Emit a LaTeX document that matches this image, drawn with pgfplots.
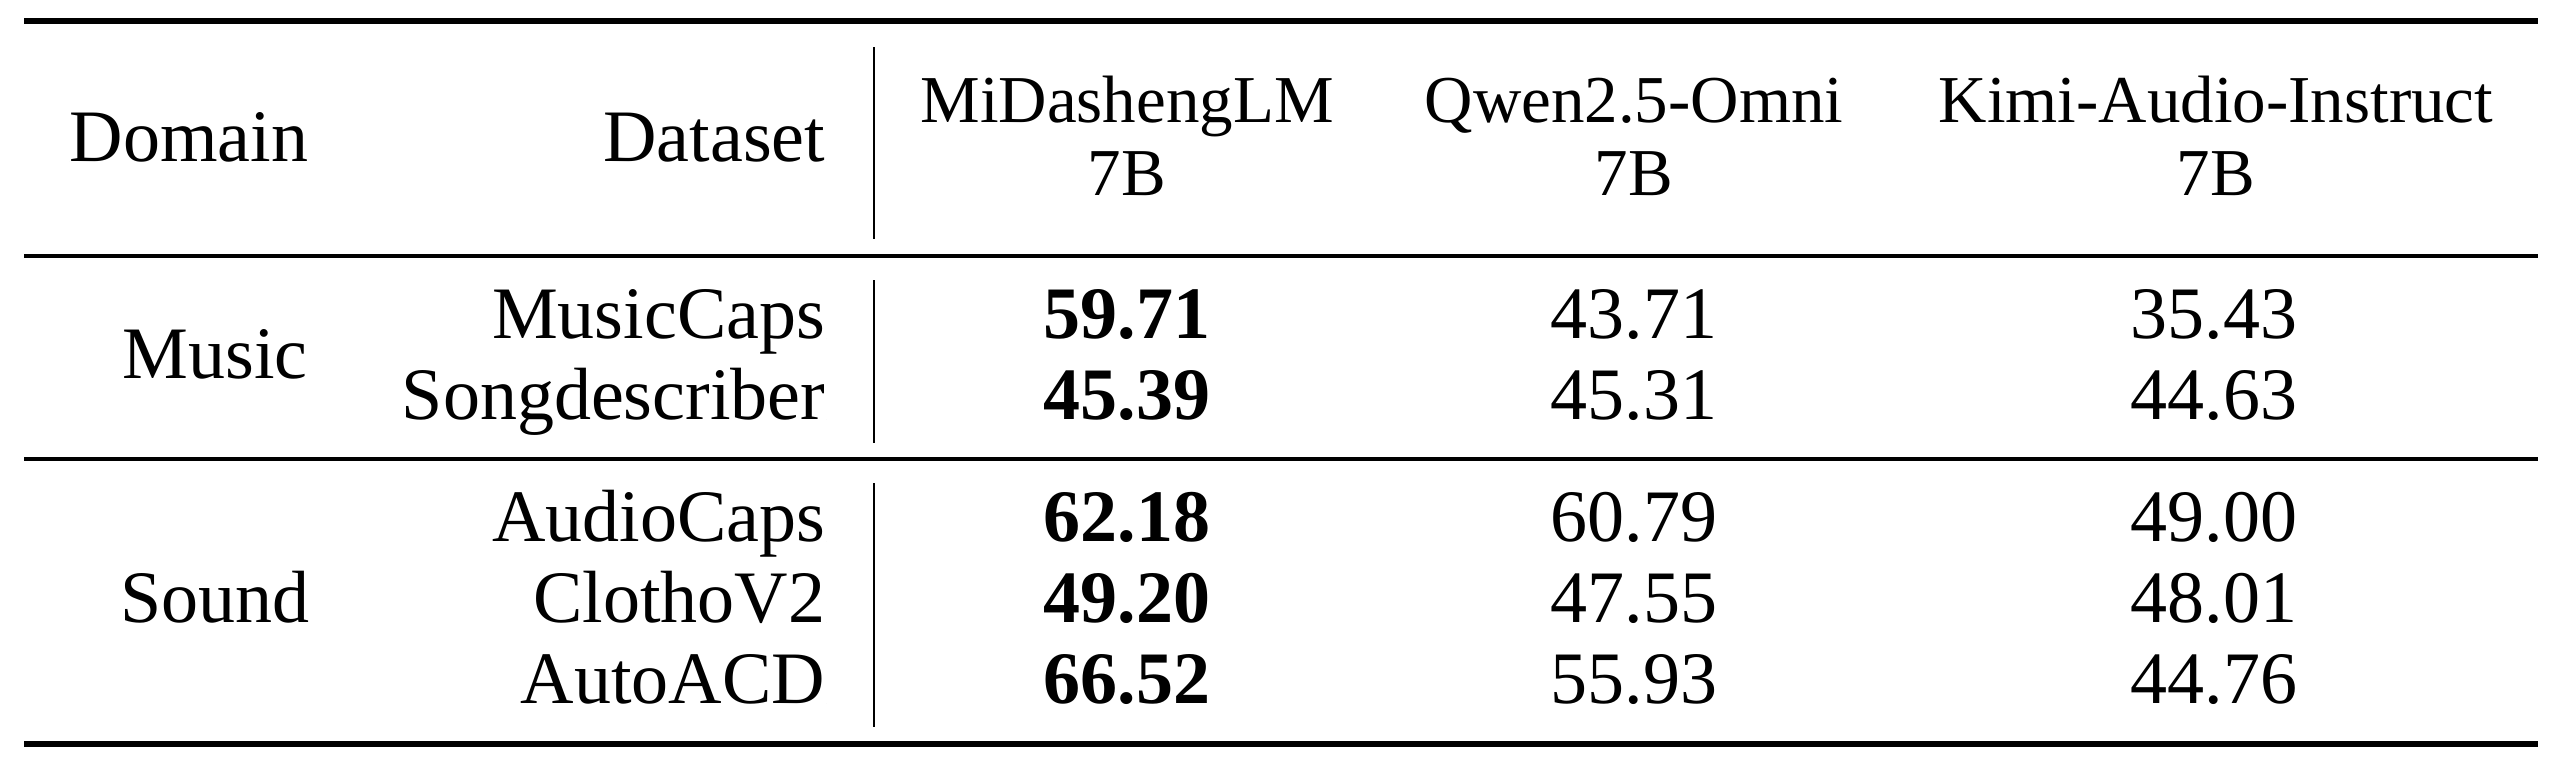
\documentclass[border=0pt]{standalone}
\usepackage{fontspec}
\setmainfont{Liberation Serif}
\usepackage{pgfplots}
\usepackage{pgfplotstable}
\pgfplotsset{compat=1.18}

% positions are in pixels of the 2560x765 picture, y downwards
\pgfplotstableread{
base mid qwen kimi
338 59.71 43.71 35.43
419 45.39 45.31 44.63
541 62.18 60.79 49.00
622 49.20 47.55 48.01
703 66.52 55.93 44.76
}\scores

\pgfplotstableread{
x base name
826 161 Dataset
826 338 MusicCaps
826 419 Songdescriber
826 541 AudioCaps
826 622 ClothoV2
826 703 AutoACD
}\rightcol

\pgfplotstableread{
x base name
215 378 Music
215 622 Sound
}\domains

\pgfplotstableread{
x base name
1127 122 MiDashengLM
1634 122 Qwen2.5-Omni
2216 122 Kimi-Audio-Instruct
1127 195 7B
1634 195 7B
2216 195 7B
}\models

\newcommand\bigfont{\fontsize{18.5}{22}\selectfont}
\newcommand\smallfont{\fontsize{16.75}{20}\selectfont}

\begin{document}
\begin{tikzpicture}
\begin{axis}[
    width=640pt, height=191.25pt, scale only axis,
    xmin=0, xmax=2560, ymin=0, ymax=765,
    y dir=reverse,
    hide axis,
    clip=false,
    txt/.style={only marks, mark=*, mark size=0pt,
        mark options={draw=none, fill=none},
        nodes near coords, point meta=explicit symbolic,
        every node near coord/.append style={inner sep=0pt, text=black}},
    num/.style={only marks, mark=*, mark size=0pt,
        mark options={draw=none, fill=none},
        nodes near coords, point meta=explicit,
        /pgf/number format/.cd, fixed, fixed zerofill, precision=2,
        assume math mode=true, /pgfplots/.cd,
        every node near coord/.append style={inner sep=0pt, text=black, anchor=base}},
]
% page extent
\addplot[draw=none] coordinates {(0,0) (2560,765)};

% rules
\addplot[black, line width=1.6pt] coordinates {(24,21) (2538,21)};
\addplot[black, line width=0.9pt] coordinates {(24,256) (2538,256)};
\addplot[black, line width=0.9pt] coordinates {(24,459) (2538,459)};
\addplot[black, line width=1.6pt] coordinates {(24,744) (2538,744)};
\addplot[black, line width=0.6pt] coordinates {(874,47) (874,239)};
\addplot[black, line width=0.6pt] coordinates {(874,280) (874,443)};
\addplot[black, line width=0.6pt] coordinates {(874,483) (874,727)};

% text
\addplot[txt, every node near coord/.append style={anchor=base west, font=\bigfont}]
    coordinates {(69,161) [Domain]};
\addplot[txt, every node near coord/.append style={anchor=base east, font=\bigfont}]
    table[x=x, y=base, meta=name] {\rightcol};
\addplot[txt, every node near coord/.append style={anchor=base, font=\bigfont}]
    table[x=x, y=base, meta=name] {\domains};
\addplot[txt, every node near coord/.append style={anchor=base, font=\smallfont}]
    table[x=x, y=base, meta=name] {\models};

% scores
\addplot[num, every node near coord/.append style={font=\bigfont\bfseries}]
    table[x expr=1127, y=base, meta=mid] {\scores};
\addplot[num, every node near coord/.append style={font=\bigfont}]
    table[x expr=1634, y=base, meta=qwen] {\scores};
\addplot[num, every node near coord/.append style={font=\bigfont}]
    table[x expr=2214, y=base, meta=kimi] {\scores};
\end{axis}
\end{tikzpicture}
\end{document}
